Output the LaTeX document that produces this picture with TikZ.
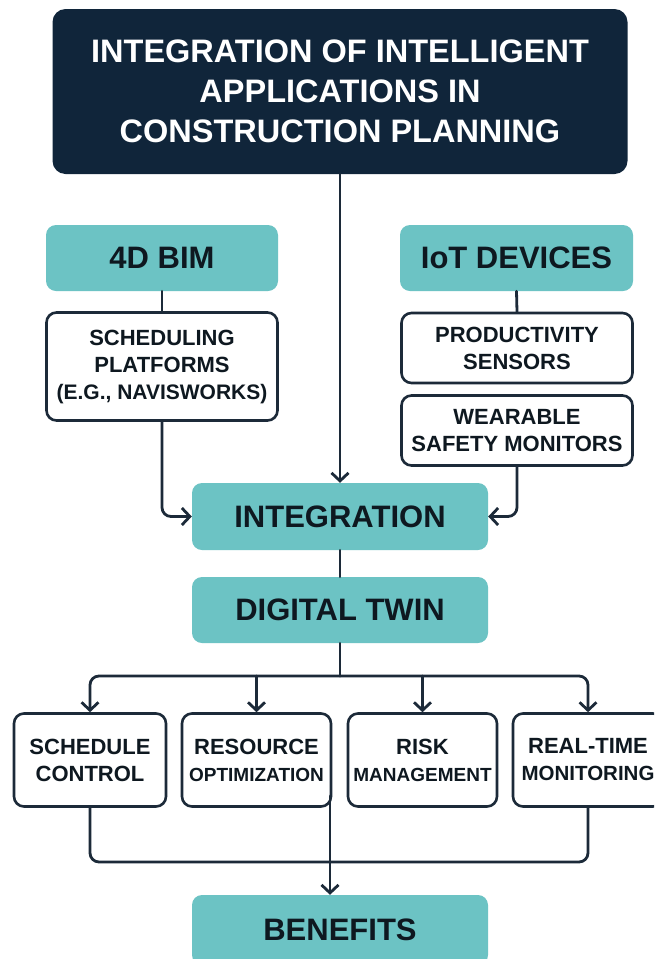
\documentclass[tikz,border=0pt]{standalone}
\usepackage{fontspec}
\setmainfont{Liberation Sans}
\usetikzlibrary{arrows.meta}
\definecolor{navy}{HTML}{10253A}
\definecolor{teal}{HTML}{6CC3C4}
\definecolor{ink}{HTML}{1C2A39}
\definecolor{txt}{HTML}{0E1820}
\newcommand{\fs}[2]{\fontsize{#1}{#2}\selectfont}
\begin{document}
\begin{tikzpicture}[x=1pt,y=-1pt,
  wire/.style={draw=ink,line width=2.8pt,line cap=round,line join=round},
  arr/.style={wire,-{Straight Barb[length=8pt,width=17pt]}},
  headbox/.style={fill=navy,rounded corners=13pt,inner sep=0pt,text=white,align=center,
    font=\bfseries\fs{32.5}{40}},
  tealbox/.style={fill=teal,rounded corners=10pt,inner sep=0pt,text=txt,align=center,
    font=\bfseries\fs{31}{38}},
  whitebox/.style={draw=ink,fill=white,line width=2.6pt,rounded corners=10pt,inner sep=0pt,
    text=txt,align=center,font=\bfseries\fs{22}{27}}]
\useasboundingbox (0,0) rectangle (654,959);
\fill[white] (0,0) rectangle (654,959);
\clip (0,0) rectangle (654,959);

% title
\node[headbox,minimum width=575,minimum height=165] (title) at (340,91.5)
  {INTEGRATION OF INTELLIGENT\\APPLICATIONS IN\\CONSTRUCTION PLANNING};

% left branch: 4D BIM
\node[tealbox,minimum width=232,minimum height=66] (bim) at (162,258) {4D BIM};
\node[whitebox,minimum width=231,minimum height=108] (sched) at (162,366.5)
  {SCHEDULING\\PLATFORMS\\\fs{21}{27}(E.G., NAVISWORKS)};

% right branch: IoT devices
\node[tealbox,minimum width=233,minimum height=66] (iot) at (516.5,258) {IoT DEVICES};
\node[whitebox,minimum width=231,minimum height=70] (prod) at (517,348)
  {PRODUCTIVITY\\SENSORS};
\node[whitebox,minimum width=231,minimum height=70] (wear) at (517,430.5)
  {WEARABLE\\SAFETY MONITORS};

% central chain
\node[tealbox,minimum width=296,minimum height=67] (integ) at (340,516.5) {INTEGRATION};
\node[tealbox,minimum width=296,minimum height=66] (twin) at (340,610) {DIGITAL TWIN};

% outcome boxes
\node[whitebox,minimum width=152,minimum height=93] (b1) at (90,760) {SCHEDULE\\CONTROL};
\node[whitebox,minimum width=149,minimum height=93] (b2) at (256.5,760)
  {RESOURCE\\\fs{19}{27}OPTIMIZATION};
\node[whitebox,minimum width=149,minimum height=93] (b3) at (422.5,760)
  {RISK\\\fs{19}{27}MANAGEMENT};
\node[whitebox,minimum width=150,minimum height=93] (b4) at (588,760)
  {REAL-TIME\\\fs{20.5}{27}MONITORING};

\node[tealbox,minimum width=296,minimum height=70] (benefits) at (340,930) {BENEFITS};

% connectors
\draw[arr] (title.south) -- (integ.north);
\draw[wire] (bim.south) -- (sched.north);
\draw[wire] (iot.south) -- (prod.north);
\draw[arr,rounded corners=9pt] (sched.south) |- (integ.west);
\draw[arr,rounded corners=9pt] (wear.south) |- (integ.east);
\draw[wire] (integ.south) -- (twin.north);

\coordinate (bus) at (340,676);
\draw[wire] (twin.south) -- (bus);
\draw[arr,rounded corners=9pt] (bus) -| (b1.north);
\draw[arr,rounded corners=9pt] (bus) -| (b4.north);
\draw[arr] (b2.north |- bus) -- (b2.north);
\draw[arr] (b3.north |- bus) -- (b3.north);

\coordinate (low) at (340,862);
\draw[wire,rounded corners=9pt] (b1.south) |- (low) -| (b4.south);
\coordinate (drop) at (330,796);
\draw[arr] (drop) -- (drop |- benefits.north);
\end{tikzpicture}
\end{document}
